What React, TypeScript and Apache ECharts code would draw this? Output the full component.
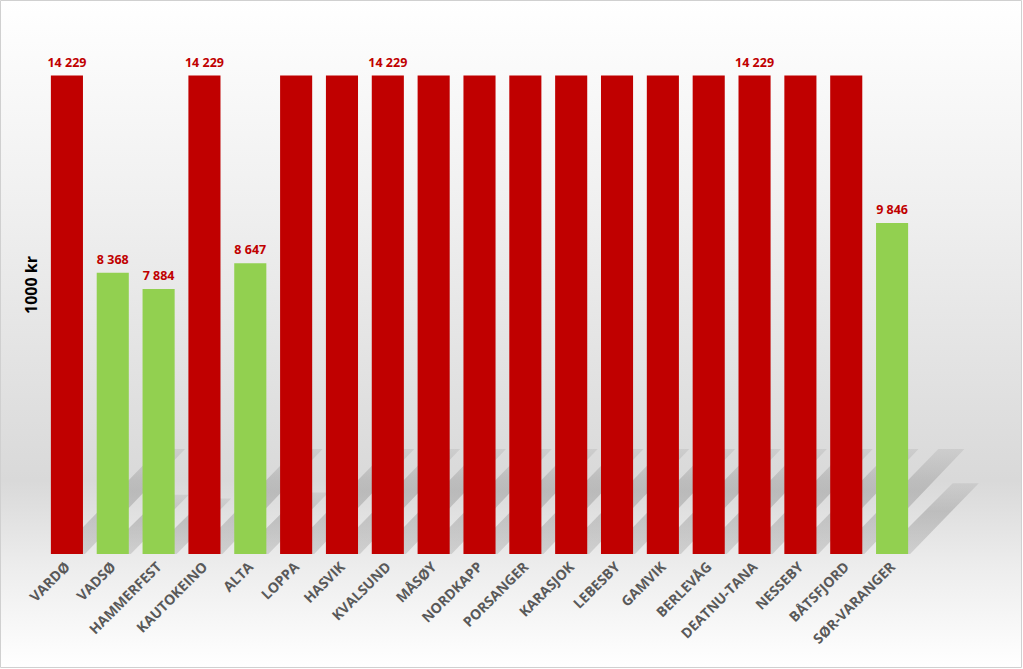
import React, { useEffect, useRef } from "react";
import * as echarts from "echarts";

const categories = ["VARDØ", "VADSØ", "HAMMERFEST", "KAUTOKEINO", "ALTA", "LOPPA", "HASVIK", "KVALSUND", "MÅSØY", "NORDKAPP", "PORSANGER", "KARASJOK", "LEBESBY", "GAMVIK", "BERLEVÅG", "DEATNU-TANA", "NESSEBY", "BÅTSFJORD", "SØR-VARANGER"];
const values = [14229, 8368, 7884, 14229, 8647, 14229, 14229, 14229, 14229, 14229, 14229, 14229, 14229, 14229, 14229, 14229, 14229, 14229, 9846];
const isGreen = [false, true, true, false, true, false, false, false, false, false, false, false, false, false, false, false, false, false, true];
const showLabel = [true, true, true, true, true, false, false, true, false, false, false, false, false, false, false, true, false, false, true];

const RED = "#C00000";
const GREEN = "#92D050";

function fmt(v: number) {
  const s = String(v);
  return s.replace(/\B(?=(\d{3})+(?!\d))/g, " ");
}

export default function App() {
  const ref = useRef<HTMLDivElement>(null);
  useEffect(() => {
    const chart = echarts.init(ref.current!, null, { renderer: "svg" });
    chart.setOption({
      animation: false,
      graphic: [
        {
          type: "rect",
          z: -10,
          silent: true,
          shape: { x: 0.5, y: 0.5, width: 1021, height: 667 },
          style: {
            fill: new echarts.graphic.LinearGradient(0, 0, 0, 1, [
              { offset: 0, color: "#ffffff" },
              { offset: 0.3, color: "#f0f0f0" },
              { offset: 0.72, color: "#d9d9d9" },
              { offset: 0.85, color: "#ededed" },
              { offset: 1, color: "#ffffff" },
            ]),
            stroke: "#d0d0d0",
            lineWidth: 1,
          },
        },
      ],
      grid: { left: 44, right: 108, top: 16, bottom: 115, containLabel: false },
      xAxis: {
        type: "category",
        data: categories,
        axisLine: { show: false },
        axisTick: { show: false },
        axisLabel: {
          interval: 0,
          rotate: 45,
          margin: 10,
          color: "#595959",
          fontWeight: "bold",
          fontSize: 14,
          fontFamily: "Open Sans",
          padding: [0, 0, 0, 0],
        },
      },
      yAxis: {
        type: "value",
        min: 0,
        max: 16000,
        axisLine: { show: false },
        axisTick: { show: false },
        axisLabel: { show: false },
        splitLine: { show: false },
        name: "1000 kr",
        nameLocation: "middle",
        nameRotate: 90,
        nameGap: 5,
        nameTextStyle: { color: "#000", fontWeight: "bold", fontSize: 16, fontFamily: "Open Sans" },
      },
      series: [
        {
          type: "custom",
          z: 1,
          silent: true,
          data: values.map((v, i) => [i, v]),
          renderItem: (params: any, api: any) => {
            const idx = api.value(0);
            const v = api.value(1);
            const base = api.coord([idx, 0]);
            const top = api.coord([idx, v]);
            const bw = api.size([1, 0])[0] * 0.7;
            const h = base[1] - top[1];
            const sh = h * 0.232;
            const dx = sh * 0.92;
            const xl = base[0] - bw / 2;
            const xr = base[0] + bw / 2;
            return {
              type: "polygon",
              shape: {
                points: [
                  [xl + 6, base[1]],
                  [xr + 2, base[1]],
                  [xr + dx, base[1] - sh + 6],
                  [xl + dx + 6, base[1] - sh + 6],
                ],
              },
              style: {
                fill: new echarts.graphic.LinearGradient(0, 0, 0, 1, [
                  { offset: 0, color: "rgba(100,100,100,0.12)" },
                  { offset: 0.4, color: "rgba(100,100,100,0.28)" },
                  { offset: 1, color: "rgba(100,100,100,0.2)" },
                ]),
              },
            };
          },
        },
        {
          type: "bar",
          z: 3,
          barWidth: "70%",
          data: values.map((v, i) => ({
            value: v,
            itemStyle: { color: isGreen[i] ? GREEN : RED },
            label: { show: showLabel[i] },
          })),
          label: {
            show: true,
            position: "top",
            distance: 7,
            color: RED,
            fontWeight: "bold",
            fontSize: 12.5,
            fontFamily: "Open Sans",
            formatter: (p: any) => fmt(p.value),
          },
        },
      ],
    });
    return () => chart.dispose();
  }, []);
  return <div ref={ref} style={{ position: "absolute", left: 0, top: 0, width: 1023, height: 669 }} />;
}
